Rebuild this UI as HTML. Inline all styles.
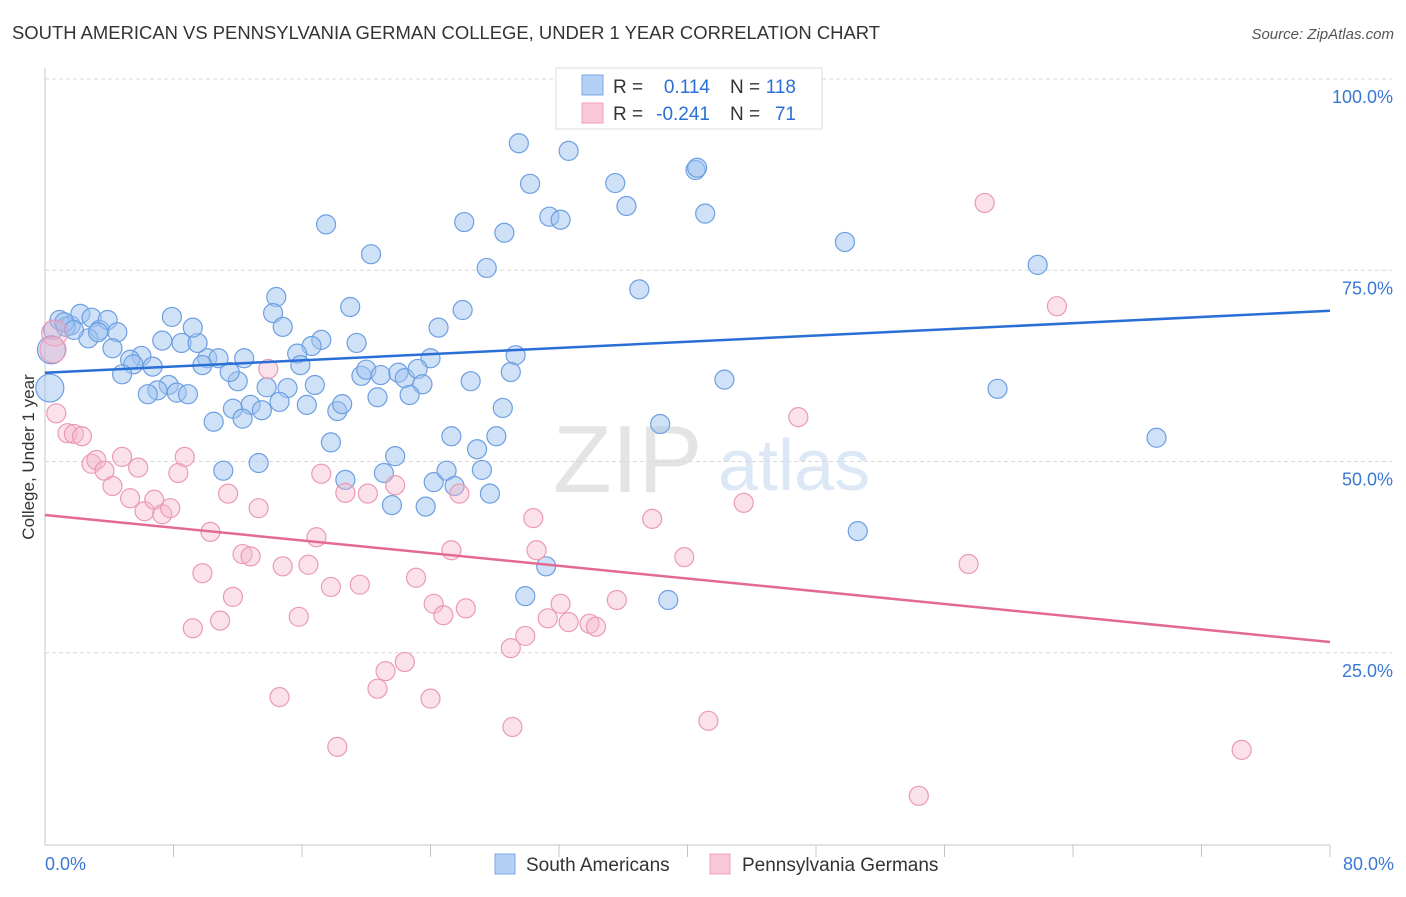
<!DOCTYPE html>
<html><head><meta charset="utf-8"><style>
body{margin:0;background:#fff;font-family:"Liberation Sans",sans-serif;}
svg text{font-family:"Liberation Sans",sans-serif;}
</style></head><body>
<svg id="chart" width="1406" height="892" xmlns="http://www.w3.org/2000/svg">
<text x="12" y="39" font-size="18" fill="#333" textLength="868" lengthAdjust="spacingAndGlyphs">SOUTH AMERICAN VS PENNSYLVANIA GERMAN COLLEGE, UNDER 1 YEAR CORRELATION CHART</text>
<text x="1394" y="39" font-size="15" fill="#555" font-style="italic" text-anchor="end">Source: ZipAtlas.com</text>
<g>
<text x="553" y="492" font-size="96" fill="#e4e4e4" font-family="Liberation Serif">ZIP</text>
<text x="718" y="490" font-size="72" fill="#dce8f6">atlas</text>
</g>
<g id="grid"></g>
<g id="axes"></g>
<g id="pts"></g>
<g id="trends"></g>
<g>
<rect x="556" y="68" width="266" height="61" fill="#fff" stroke="#ddd"/>
<rect x="582" y="75" width="21" height="20" fill="#b5d0f5" stroke="#7aa8e8"/>
<rect x="582" y="103" width="21" height="20" fill="#fac9d8" stroke="#f0a0b8"/>
<text x="613" y="93" font-size="19" fill="#333">R =</text>
<text x="710" y="93" font-size="19" fill="#2a6fd6" text-anchor="end">0.114</text>
<text x="730" y="93" font-size="19" fill="#333">N =</text>
<text x="796" y="93" font-size="19" fill="#2a6fd6" text-anchor="end">118</text>
<text x="613" y="120" font-size="19" fill="#333">R =</text>
<text x="710" y="120" font-size="19" fill="#2a6fd6" text-anchor="end">-0.241</text>
<text x="730" y="120" font-size="19" fill="#333">N =</text>
<text x="796" y="120" font-size="19" fill="#2a6fd6" text-anchor="end">71</text>
</g>
<g>
<rect x="495" y="854" width="20" height="20" fill="#b5d0f5" stroke="#7aa8e8"/>
<text x="526" y="871" font-size="19" fill="#333">South Americans</text>
<rect x="710" y="854" width="20" height="20" fill="#fac9d8" stroke="#f0a0b8"/>
<text x="742" y="871" font-size="19" fill="#333">Pennsylvania Germans</text>
</g>
<text transform="translate(34,457) rotate(-90)" font-size="17" fill="#333" text-anchor="middle">College, Under 1 year</text>
</svg>
<script>
const yTicks=[25,50,75,100];
const yTickLabels=["25.0%","50.0%","75.0%","100.0%"];
const xTickLabels=["0.0%","80.0%"];
const blueX=[29.5,32.6,30.2,35.5,40.5,40.6,36.2,41.1,26.1,31.4,32.1,28.6,17.5,20.3,27.5,49.8,61.8,37.0,14.4,19.0,26.0,14.2,14.8,24.5,17.2,16.6,19.4,15.7,15.9,24.0,29.3,29.0,19.7,20.0,20.9,22.0,22.4,23.2,23.5,26.5,42.3,59.3,69.2,20.7,22.7,15.1,16.8,13.8,12.0,11.5,10.1,10.8,12.4,9.8,8.5,9.5,9.2,7.9,7.3,6.0,5.3,5.5,4.8,6.7,7.7,7.0,8.2,8.9,6.4,12.8,13.5,11.7,12.3,10.5,14.6,16.3,18.2,18.5,17.8,11.1,13.3,18.7,21.1,21.8,21.6,23.7,24.2,25.0,25.5,27.7,27.2,25.3,26.9,28.1,28.5,38.3,50.6,31.2,29.9,38.8,0.5,0.9,1.6,2.2,2.9,3.4,3.9,4.5,1.3,2.7,4.2,0.3,0.4,1.2,1.8,3.3,39.2,37.4];
const blueY=[91.6,90.6,86.3,86.4,88.1,88.4,83.4,82.4,81.3,82.0,81.6,79.9,81.0,77.1,75.3,78.7,75.7,72.5,71.5,70.2,69.8,69.4,67.6,67.5,65.9,65.1,65.5,64.1,62.6,63.5,63.9,61.7,61.2,62.0,61.3,61.6,60.9,62.1,60.1,60.5,60.7,59.5,53.1,58.4,58.7,59.6,60.0,59.7,60.5,61.7,63.5,63.5,63.5,62.6,65.5,65.5,67.5,68.9,65.8,63.8,63.3,62.7,61.4,62.4,60.0,59.3,59.0,58.8,58.8,57.4,56.7,56.9,55.6,55.2,57.8,57.4,56.6,57.5,52.5,48.8,49.8,47.6,48.5,50.7,44.3,44.1,47.3,48.8,46.8,45.8,48.9,53.3,51.6,53.3,57.0,54.9,40.9,36.3,32.4,31.9,67.2,68.5,67.8,69.3,68.8,67.2,68.5,66.9,67.6,66.1,64.8,59.6,64.6,68.2,67.2,66.9,99.9,99.9];
const blueBig=[111,112];
const pinkX=[58.5,63.0,46.9,13.9,0.7,1.4,1.8,2.3,2.9,3.2,3.7,4.2,4.8,5.8,5.3,6.2,6.8,7.3,7.8,8.3,8.7,11.4,13.3,10.3,9.8,9.2,10.9,11.7,12.3,12.8,14.8,15.8,16.4,16.9,17.2,17.8,18.7,19.6,20.1,21.8,23.1,22.4,21.2,20.7,24.2,24.8,25.3,25.8,26.2,14.6,18.2,24.0,29.1,29.0,29.9,30.4,30.6,31.3,32.1,32.6,33.9,34.3,35.6,37.8,39.8,43.5,41.3,57.5,54.4,74.5,0.6,0.5];
const pinkY=[83.8,70.3,55.8,62.1,56.3,53.7,53.6,53.3,49.7,50.2,48.8,46.8,50.6,49.2,45.2,43.5,45.0,43.1,43.9,48.5,50.6,45.8,43.9,40.8,35.4,28.2,29.2,32.3,37.9,37.6,36.3,29.7,36.5,40.1,48.4,33.6,45.9,33.9,45.8,46.9,34.8,23.8,22.6,20.3,31.4,29.9,38.4,45.8,30.8,19.2,12.7,19.0,15.3,25.6,27.2,42.6,38.4,29.5,31.4,29.0,28.8,28.4,31.9,42.5,37.5,44.6,16.1,36.6,6.3,12.3,66.8,64.6];
const pinkBig=[70,71];
const trendBlue=[61.6,69.7];
const trendPink=[43.0,26.4];

const NS="http://www.w3.org/2000/svg";
const X0=45,X1=1330,Y0=844,YH=79;
const sx=v=>X0+(v/80)*(X1-X0);
const sy=v=>Y0-(v/100)*(Y0-YH);
function mk(tag,attrs,parent){const e=document.createElementNS(NS,tag);for(const k in attrs)e.setAttribute(k,attrs[k]);parent.appendChild(e);return e;}
const grid=document.getElementById('grid'),axes=document.getElementById('axes'),pts=document.getElementById('pts'),tr=document.getElementById('trends');
yTicks.forEach((t,i)=>{
 const l=mk('line',{x1:X0,x2:1392,y1:sy(t),y2:sy(t),stroke:'#d8d8d8','stroke-dasharray':'4,3'},grid);
 
 
 const tx=mk('text',{x:1393,y:sy(t)+24,'font-size':18,fill:'#3a78d4','text-anchor':'end'},axes);
 tx.textContent=yTickLabels[i];
 
 
});
const ax=mk('line',{x1:X0,x2:X0,y1:68,y2:845,stroke:'#c4c4c4'},axes);


const bx=mk('line',{x1:X0,x2:X1,y1:845,y2:845,stroke:'#c4c4c4'},axes);


for(let i=1;i<=10;i++){
 const t=mk('line',{x1:sx(i*8),x2:sx(i*8),y1:845,y2:857,stroke:'#c4c4c4'},axes);
 
 
}
[[0,'start',X0],[1,'end',1394]].forEach(([i,a,x])=>{
 const t=mk('text',{x:x,y:870,'font-size':18,fill:'#3a78d4','text-anchor':a},axes);
 t.textContent=xTickLabels[i];
 
 
});
blueX.forEach((v,i)=>{
 const c=mk('circle',{cx:sx(v),cy:sy(blueY[i]),r:blueBig.includes(i)?14:9.5,fill:'rgba(160,196,240,0.5)',stroke:'#6d9fe2','stroke-width':1.2},pts);
 
 
});
pinkX.forEach((v,i)=>{
 const c=mk('circle',{cx:sx(v),cy:sy(pinkY[i]),r:pinkBig.includes(i)?13:9.5,fill:'rgba(246,180,202,0.4)',stroke:'#eb9ab6','stroke-width':1.2},pts);
 
 
});
const lb=mk('line',{x1:sx(0),x2:sx(80),y1:sy(trendBlue[0]),y2:sy(trendBlue[1]),stroke:'#2a6fd6','stroke-width':2.5},tr);


const lp=mk('line',{x1:sx(0),x2:sx(80),y1:sy(trendPink[0]),y2:sy(trendPink[1]),stroke:'#e46a96','stroke-width':2.5},tr);


</script>
</body></html>
